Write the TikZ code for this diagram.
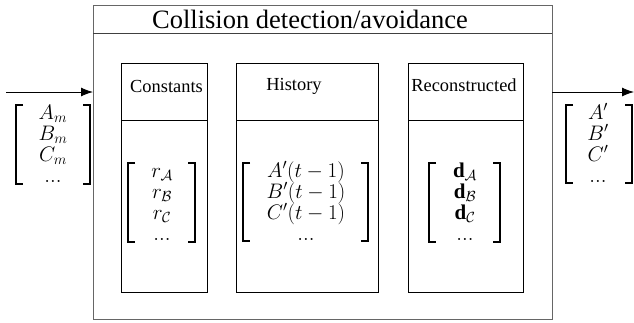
\RequirePackage{fix-cm}
\documentclass[tikz,border=0pt]{standalone}
\usepackage{fontspec}
\setmainfont{Liberation Serif}
\usetikzlibrary{arrows.meta}
\newcommand\Brk[4]{%
  \draw[brk] (#1+7,#3) -- (#1,#3) -- (#1,#4) -- (#1+7,#4);
  \draw[brk] (#2-7,#3) -- (#2,#3) -- (#2,#4) -- (#2-7,#4);}
% four rows of a column vector, each a named node on its baseline
\newcommand\Rows[7]{%
  \node[mrow] (#1a) at (#2,#3) {$#4$};
  \node[mrow] (#1b) at (#2,#3+21) {$#5$};
  \node[mrow] (#1c) at (#2,#3+42) {$#6$};
  \node[mrow] (#1d) at (#2,#3+63) {$#7$};}
\begin{document}
\begin{tikzpicture}[x=1pt,y=-1pt,
  box/.style={draw, line width=0.9pt, inner sep=0, outer sep=0, anchor=north west},
  lbl/.style={font=\fontsize{18.4}{20}\selectfont, inner sep=0},
  mrow/.style={font=\fontsize{21}{21}\selectfont, inner sep=0, anchor=base},
  brk/.style={line width=1.6pt},
  sep/.style={line width=0.9pt},
  arr/.style={-{Latex[length=12pt,width=9pt]}, line width=0.9pt}]
\useasboundingbox (0,0) rectangle (634,322);
% outer block
\node[box, draw=black!60, line width=1pt, minimum width=459pt, minimum height=314pt] (outer) at (93,5) {};
\draw[sep, draw=black!75] (93,33.5) -- (552,33.5);
\node[font=\fontsize{26.5}{30}\selectfont, inner sep=0] (title) at (310,19) {Collision detection/avoidance};
% inner boxes
\node[box, minimum width=86pt, minimum height=229pt] (cbox) at (121.5,63) {};
\node[box, minimum width=142pt, minimum height=229pt] (hbox) at (236,63) {};
\node[box, minimum width=115pt, minimum height=229pt] (rbox) at (408.5,63) {};
\draw[sep] (121.5,120.5) -- (207.5,120.5);
\draw[sep] (236,120.5) -- (378,120.5);
\draw[sep] (408.5,120.5) -- (523.5,120.5);
\node[lbl] (clbl) at (166.5,86) {Constants};
\node[lbl] (hlbl) at (294,86) {History};
\node[lbl] (rlbl) at (464,85) {Reconstructed};
% inner vectors
\Rows{c}{162}{177}{r_{\mathcal{A}}}{r_{\mathcal{B}}}{r_{\mathcal{C}}}{...}
\Brk{128}{195}{163}{242}
\Rows{h}{306}{177}{A'(t-1)}{B'(t-1)}{C'(t-1)}{...}
\Brk{243}{368}{163}{241}
\Rows{r}{465}{177}{\mathbf{d}_{\mathcal{A}}}{\mathbf{d}_{\mathcal{B}}}{\mathbf{d}_{\mathcal{C}}}{...}
\Brk{429}{500}{163}{242}
% input
\coordinate (inL) at (6,92);
\draw[arr] (inL) -- (inL -| outer.west);
\Rows{i}{53}{119}{A_m}{B_m}{C_m}{...}
\Brk{16}{90}{105}{184}
% output
\coordinate (outR) at (634,92);
\draw[arr] (outR -| outer.east) -- (outR);
\Rows{o}{598}{119}{A'}{B'}{C'}{...}
\Brk{566}{632}{105}{183}
\end{tikzpicture}
\end{document}
